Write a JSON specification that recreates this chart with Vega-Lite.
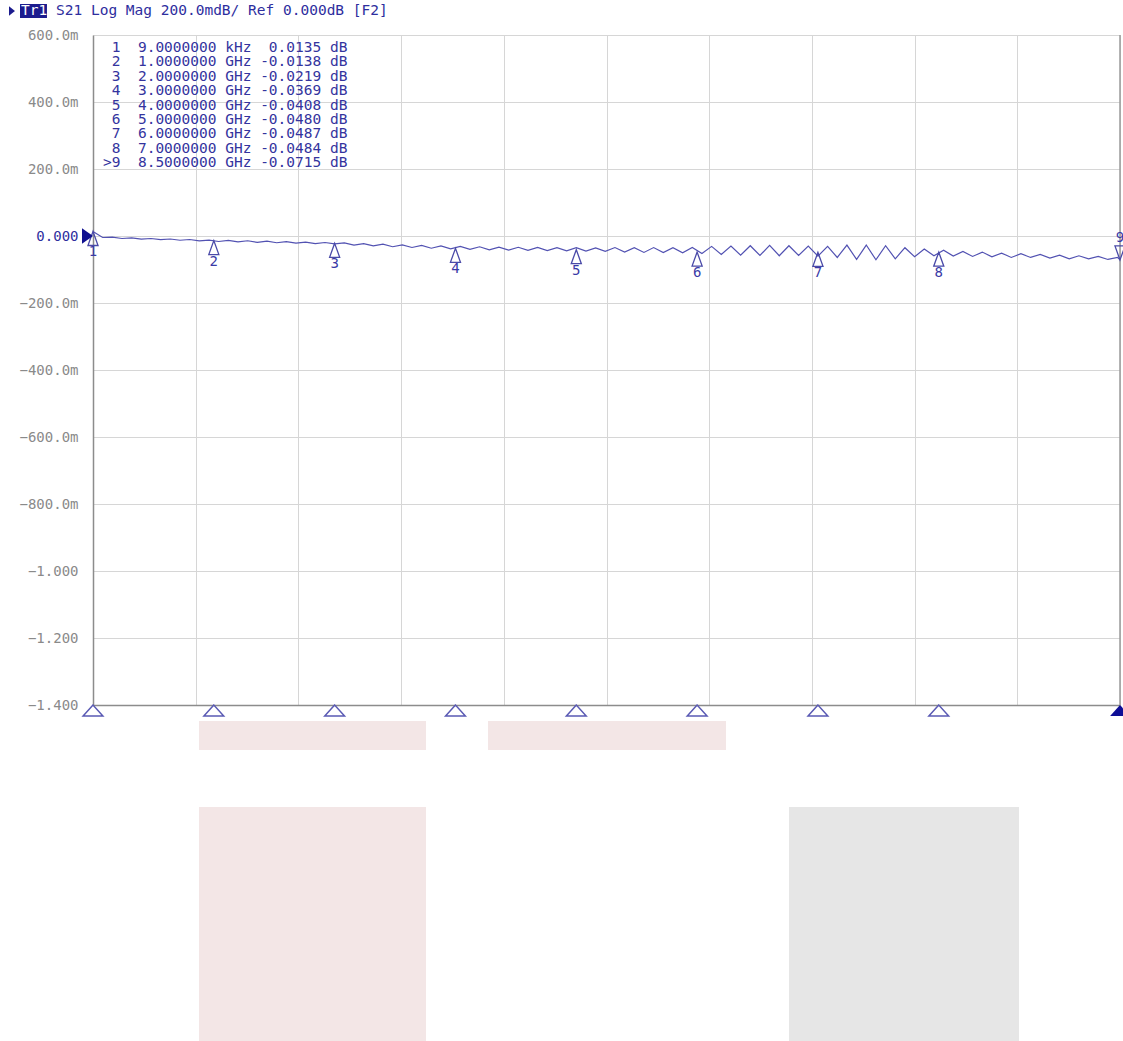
{
  "$schema": "https://vega.github.io/schema/vega-lite/v6.json",
  "width": 1027,
  "height": 670,
  "autosize": {"type": "none"},
  "padding": {"left": 93, "top": 35, "right": 3, "bottom": 336},
  "background": "white",
  "config": {"view": {"stroke": null}, "font": "DejaVu Sans Mono"},
  "datasets": {
    "trace": [
      {"f": 0, "db": 0.0135}, {"f": 0.08, "db": -0.0045}, {"f": 0.16, "db": -0.0035}, {"f": 0.24, "db": -0.0075},
      {"f": 0.32, "db": -0.0055}, {"f": 0.40, "db": -0.0095}, {"f": 0.48, "db": -0.0075}, {"f": 0.56, "db": -0.0111},
      {"f": 0.64, "db": -0.0089}, {"f": 0.72, "db": -0.0127}, {"f": 0.80, "db": -0.0105}, {"f": 0.88, "db": -0.0143},
      {"f": 0.96, "db": -0.0121}, {"f": 1.04, "db": -0.0164}, {"f": 1.12, "db": -0.0130}, {"f": 1.20, "db": -0.0176},
      {"f": 1.28, "db": -0.0142}, {"f": 1.36, "db": -0.0189}, {"f": 1.44, "db": -0.0155}, {"f": 1.52, "db": -0.0202},
      {"f": 1.60, "db": -0.0168}, {"f": 1.68, "db": -0.0214}, {"f": 1.76, "db": -0.0181}, {"f": 1.84, "db": -0.0227},
      {"f": 1.92, "db": -0.0194}, {"f": 2.00, "db": -0.0235}, {"f": 2.08, "db": -0.0205}, {"f": 2.16, "db": -0.0270},
      {"f": 2.24, "db": -0.0226}, {"f": 2.32, "db": -0.0295}, {"f": 2.40, "db": -0.0244}, {"f": 2.48, "db": -0.0320},
      {"f": 2.56, "db": -0.0263}, {"f": 2.64, "db": -0.0343}, {"f": 2.72, "db": -0.0280}, {"f": 2.80, "db": -0.0365},
      {"f": 2.88, "db": -0.0298}, {"f": 2.96, "db": -0.0385}, {"f": 3.04, "db": -0.0312}, {"f": 3.12, "db": -0.0400},
      {"f": 3.20, "db": -0.0322}, {"f": 3.28, "db": -0.0414}, {"f": 3.36, "db": -0.0331}, {"f": 3.44, "db": -0.0423},
      {"f": 3.52, "db": -0.0336}, {"f": 3.60, "db": -0.0429}, {"f": 3.68, "db": -0.0342}, {"f": 3.76, "db": -0.0435},
      {"f": 3.84, "db": -0.0349}, {"f": 3.92, "db": -0.0442}, {"f": 4.00, "db": -0.0350}, {"f": 4.08, "db": -0.0453},
      {"f": 4.16, "db": -0.0357}, {"f": 4.24, "db": -0.0460}, {"f": 4.32, "db": -0.0345}, {"f": 4.40, "db": -0.0480},
      {"f": 4.48, "db": -0.0350}, {"f": 4.56, "db": -0.0490}, {"f": 4.64, "db": -0.0345}, {"f": 4.72, "db": -0.0495},
      {"f": 4.80, "db": -0.0350}, {"f": 4.88, "db": -0.0500}, {"f": 4.96, "db": -0.0340}, {"f": 5.04, "db": -0.0520},
      {"f": 5.12, "db": -0.0310}, {"f": 5.20, "db": -0.0550}, {"f": 5.28, "db": -0.0300}, {"f": 5.36, "db": -0.0570},
      {"f": 5.44, "db": -0.0290}, {"f": 5.52, "db": -0.0580}, {"f": 5.60, "db": -0.0280}, {"f": 5.68, "db": -0.0590},
      {"f": 5.76, "db": -0.0290}, {"f": 5.84, "db": -0.0580}, {"f": 5.92, "db": -0.0300}, {"f": 6.00, "db": -0.0600},
      {"f": 6.08, "db": -0.0310}, {"f": 6.16, "db": -0.0640}, {"f": 6.24, "db": -0.0270}, {"f": 6.32, "db": -0.0700},
      {"f": 6.40, "db": -0.0270}, {"f": 6.48, "db": -0.0710}, {"f": 6.56, "db": -0.0290}, {"f": 6.64, "db": -0.0680},
      {"f": 6.72, "db": -0.0350}, {"f": 6.80, "db": -0.0620}, {"f": 6.88, "db": -0.0390}, {"f": 6.96, "db": -0.0590},
      {"f": 7.04, "db": -0.0425}, {"f": 7.12, "db": -0.0600}, {"f": 7.20, "db": -0.0460}, {"f": 7.28, "db": -0.0610},
      {"f": 7.36, "db": -0.0480}, {"f": 7.44, "db": -0.0620}, {"f": 7.52, "db": -0.0510}, {"f": 7.60, "db": -0.0640},
      {"f": 7.68, "db": -0.0530}, {"f": 7.76, "db": -0.0640}, {"f": 7.84, "db": -0.0550}, {"f": 7.92, "db": -0.0660},
      {"f": 8.00, "db": -0.0570}, {"f": 8.08, "db": -0.0680}, {"f": 8.16, "db": -0.0590}, {"f": 8.24, "db": -0.0680},
      {"f": 8.32, "db": -0.0610}, {"f": 8.40, "db": -0.0700}, {"f": 8.48, "db": -0.0640}, {"f": 8.50, "db": -0.0715}
    ],
    "markers": [
      {"id": 1, "f": 0.000009, "db": 0.0135},
      {"id": 2, "f": 1, "db": -0.0138},
      {"id": 3, "f": 2, "db": -0.0219},
      {"id": 4, "f": 3, "db": -0.0369},
      {"id": 5, "f": 4, "db": -0.0408},
      {"id": 6, "f": 5, "db": -0.0480},
      {"id": 7, "f": 6, "db": -0.0487},
      {"id": 8, "f": 7, "db": -0.0484},
      {"id": 9, "f": 8.5, "db": -0.0715}
    ]
  },
  "encoding": {
    "x": {
      "field": "f", "type": "quantitative", "title": null,
      "scale": {"domain": [0, 8.5], "nice": false, "zero": false},
      "axis": {"values": [0, 0.85, 1.7, 2.55, 3.4, 4.25, 5.1, 5.95, 6.8, 7.65, 8.5], "labels": false, "ticks": false, "grid": true, "gridColor": "#d6d6d6", "domainColor": "#8c8c8c", "domainWidth": 1.5}
    },
    "y": {
      "field": "db", "type": "quantitative", "title": null,
      "scale": {"domain": [-1.4, 0.6], "nice": false, "zero": false},
      "axis": {
        "values": [0.6, 0.4, 0.2, 0, -0.2, -0.4, -0.6, -0.8, -1, -1.2, -1.4],
        "ticks": false, "grid": true, "gridColor": "#d6d6d6", "domainColor": "#8c8c8c", "domainWidth": 1.5,
        "labelFont": "DejaVu Sans Mono", "labelFontSize": 14, "labelPadding": 15,
        "labelColor": {"condition": {"test": "datum.value == 0", "value": "#2e2e9e"}, "value": "#8a8a8a"},
        "labelExpr": "datum.value == 0 ? '0.000' : (abs(datum.value) >= 0.999 ? format(datum.value, '.3f') : format(datum.value * 1000, '.1f') + 'm')"
      }
    }
  },
  "layer": [
    {
      "data": {"values": [
        {"f": 0.8774, "f2": 2.7562, "db": -1.4478, "db2": -1.5343},
        {"f": 3.2693, "f2": 5.2392, "db": -1.4478, "db2": -1.5343},
        {"f": 0.8774, "f2": 2.7562, "db": -1.7045, "db2": -2.45}
      ]},
      "mark": {"type": "rect", "fill": "#f3e6e6"},
      "encoding": {"x2": {"field": "f2"}, "y2": {"field": "db2"}}
    },
    {
      "data": {"values": [{"f": 5.7607, "f2": 7.6643, "db": -1.7045, "db2": -2.45}]},
      "mark": {"type": "rect", "fill": "#e6e6e6"},
      "encoding": {"x2": {"field": "f2"}, "y2": {"field": "db2"}}
    },
    {
      "data": {"values": [{"f": 8.5}]},
      "mark": {"type": "rule", "color": "#9a9a9a", "strokeWidth": 1.5},
      "encoding": {"y": null}
    },
    {
      "data": {"name": "trace"},
      "mark": {"type": "line", "color": "#5252b2", "strokeWidth": 1.2}
    },
    {
      "data": {"name": "markers"},
      "transform": [{"filter": "datum.id < 9"}],
      "mark": {"type": "point", "shape": "M0,0 L-0.36,1 L0.36,1 Z", "size": 784, "filled": false, "stroke": "#4a4aa8", "strokeWidth": 1.3, "opacity": 1}
    },
    {
      "data": {"name": "markers"},
      "transform": [{"filter": "datum.id == 9"}],
      "mark": {"type": "point", "shape": "M0,0 L-0.36,-1 L0.36,-1 Z", "size": 784, "filled": false, "stroke": "#4a4aa8", "strokeWidth": 1.3, "opacity": 1}
    },
    {
      "data": {"name": "markers"},
      "transform": [{"filter": "datum.id < 9"}],
      "mark": {"type": "text", "dy": 21, "align": "center", "baseline": "middle", "font": "DejaVu Sans Mono", "fontSize": 14, "color": "#3a3aa6"},
      "encoding": {"text": {"field": "id", "type": "nominal"}}
    },
    {
      "data": {"name": "markers"},
      "transform": [{"filter": "datum.id == 9"}],
      "mark": {"type": "text", "dy": -22, "align": "center", "baseline": "middle", "font": "DejaVu Sans Mono", "fontSize": 14, "color": "#3a3aa6"},
      "encoding": {"text": {"field": "id", "type": "nominal"}}
    },
    {
      "data": {"name": "markers"},
      "transform": [{"filter": "datum.id < 9"}],
      "mark": {"type": "point", "shape": "M0,0 L-0.9,1 L0.9,1 Z", "size": 484, "filled": false, "stroke": "#5a5ab4", "strokeWidth": 1.5, "opacity": 1},
      "encoding": {"y": {"datum": -1.4, "type": "quantitative", "title": null}}
    },
    {
      "data": {"name": "markers"},
      "transform": [{"filter": "datum.id == 9"}],
      "mark": {"type": "point", "shape": "M0,0 L-0.9,1 L0.9,1 Z", "size": 484, "filled": true, "color": "#0e0e96", "opacity": 1},
      "encoding": {"y": {"datum": -1.4, "type": "quantitative", "title": null}}
    },
    {
      "data": {"values": [{"f": 0, "db": 0}]},
      "mark": {"type": "point", "shape": "M0,0 L-1,-0.7 L-1,0.7 Z", "size": 484, "filled": true, "color": "#10108f", "opacity": 1}
    },
    {
      "data": {"values": [{"f": 0.155, "db": 0.5612}]},
      "mark": {
        "type": "text", "align": "left", "baseline": "middle", "font": "DejaVu Sans Mono", "fontSize": 14.5, "lineHeight": 14.4, "color": "#34349e",
        "text": [
          "1\u00a0\u00a09.0000000\u00a0kHz\u00a0\u00a00.0135\u00a0dB",
          "2\u00a0\u00a01.0000000\u00a0GHz\u00a0-0.0138\u00a0dB",
          "3\u00a0\u00a02.0000000\u00a0GHz\u00a0-0.0219\u00a0dB",
          "4\u00a0\u00a03.0000000\u00a0GHz\u00a0-0.0369\u00a0dB",
          "5\u00a0\u00a04.0000000\u00a0GHz\u00a0-0.0408\u00a0dB",
          "6\u00a0\u00a05.0000000\u00a0GHz\u00a0-0.0480\u00a0dB",
          "7\u00a0\u00a06.0000000\u00a0GHz\u00a0-0.0487\u00a0dB",
          "8\u00a0\u00a07.0000000\u00a0GHz\u00a0-0.0484\u00a0dB",
          "9\u00a0\u00a08.5000000\u00a0GHz\u00a0-0.0715\u00a0dB"
        ]
      }
    },
    {
      "data": {"values": [{"f": 0.083, "db": 0.2173, "t": ">"}]},
      "mark": {"type": "text", "align": "left", "baseline": "middle", "font": "DejaVu Sans Mono", "fontSize": 14.5, "color": "#34349e"},
      "encoding": {"text": {"field": "t", "type": "nominal"}}
    },
    {
      "data": {"values": [{"f": -0.604, "f2": -0.381, "db": 0.6925, "db2": 0.6507}]},
      "mark": {"type": "rect", "fill": "#1c1c8e"},
      "encoding": {"x2": {"field": "f2"}, "y2": {"field": "db2"}}
    },
    {
      "data": {"values": [{"f": -0.6458, "db": 0.6716}]},
      "mark": {"type": "point", "shape": "M0,0 L-1,-0.8 L-1,0.8 Z", "size": 144, "filled": true, "color": "#1c1c8e", "opacity": 1}
    },
    {
      "data": {"values": [{"f": -0.596, "db": 0.6716, "t": "Tr1"}]},
      "mark": {"type": "text", "align": "left", "baseline": "middle", "font": "DejaVu Sans Mono", "fontSize": 14.5, "color": "white"},
      "encoding": {"text": {"field": "t", "type": "nominal"}}
    },
    {
      "data": {"values": [{"f": -0.3062, "db": 0.6716, "t": "S21 Log Mag 200.0mdB/ Ref 0.000dB [F2]"}]},
      "mark": {"type": "text", "align": "left", "baseline": "middle", "font": "DejaVu Sans Mono", "fontSize": 14.5, "color": "#2e2e9e"},
      "encoding": {"text": {"field": "t", "type": "nominal"}}
    }
  ]
}
